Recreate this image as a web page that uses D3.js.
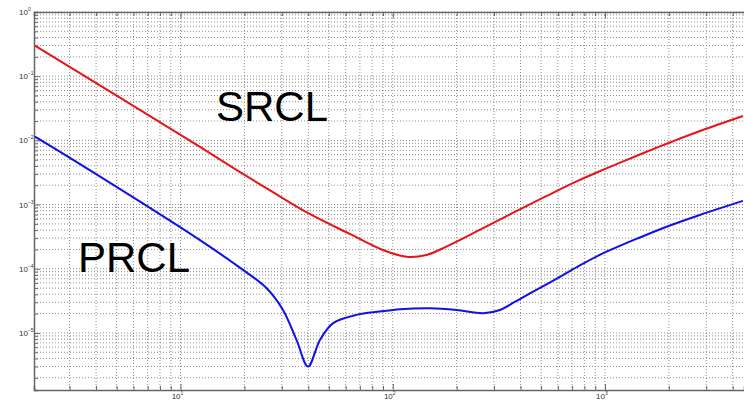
<!DOCTYPE html>
<html>
<head>
<meta charset="utf-8">
<script src="https://cdn.jsdelivr.net/npm/d3@7"></script>
<style>
  body { margin: 0; background: #fff; }
  svg { display: block; }
</style>
</head>
<body>
<svg id="chart" width="744" height="400"></svg>
<script>
// SRCL curve: frequency (Hz) and value
const srclFreq = [2.06, 12.3, 19.7, 26.4, 40.6, 62.8, 89.8, 116, 144, 179, 257, 368, 531, 735, 977, 1461, 2024, 2800, 4467];
const srclVal  = [0.299, 7.98e-3, 3.0e-3, 1.66e-3, 7.14e-4, 3.48e-4, 1.96e-4, 1.54e-4, 1.64e-4, 2.21e-4, 4.02e-4, 7.40e-4, 1.36e-3, 2.29e-3, 3.46e-3, 6.03e-3, 9.27e-3, 1.40e-2, 2.40e-2];

// PRCL curve
const prclFreq = [2.06, 3.12, 12.3, 19.7, 25.4, 30.4, 35.2, 39.9, 45.4, 52.4, 67.5, 86.9, 108, 150, 200, 267, 320, 376, 443, 613, 762, 977, 1461, 2024, 2800, 4467];
const prclVal  = [1.14e-2, 4.95e-3, 2.81e-4, 9.58e-5, 5.0e-5, 2.28e-5, 7.78e-6, 2.99e-6, 7.78e-6, 1.42e-5, 1.91e-5, 2.15e-5, 2.34e-5, 2.43e-5, 2.28e-5, 2.03e-5, 2.28e-5, 3.04e-5, 4.12e-5, 7.45e-5, 1.125e-4, 1.73e-4, 3.07e-4, 4.72e-4, 6.89e-4, 1.14e-3];

const xDecades = [1, 2, 3];
const yDecades = [0, -1, -2, -3, -4, -5];
const curveLabels = ["SRCL", "PRCL"];

const svg = d3.select("#chart");
const width = +svg.attr("width");
const height = +svg.attr("height");
const plot = {left: 34, top: 12, right: 744, bottom: 390};

const x = d3.scaleLog().domain([2.04, 4520]).range([plot.left, plot.right]);
const y = d3.scaleLog().domain([1.29e-6, 1]).range([plot.bottom, plot.top]);

// all 1..9 x 10^k values inside a domain
function logTicks(lo, hi) {
  const out = [];
  for (let k = Math.floor(Math.log10(lo)); k <= Math.ceil(Math.log10(hi)); k++) {
    for (let m = 1; m < 10; m++) {
      const v = m * Math.pow(10, k);
      if (v >= lo * 0.999 && v <= hi * 1.001) out.push(v);
    }
  }
  return out;
}
const xTicks = logTicks(2.04, 4520);
const yTicks = logTicks(1.29e-6, 1);
const isDecade = v => Math.abs(Math.log10(v) - Math.round(Math.log10(v))) < 1e-6;

// dotted grid
const grid = svg.append("g");
grid.selectAll("line.gx")
  .data(xTicks)
  .enter().append("line")
  .attr("x1", d => x(d)).attr("x2", d => x(d))
  .attr("y1", plot.top).attr("y2", plot.bottom)
  .attr("stroke", "#808080")
  .attr("stroke-width", 0.9)
  .attr("stroke-dasharray", "1,2");
grid.selectAll("line.gy")
  .data(yTicks)
  .enter().append("line")
  .attr("y1", d => y(d)).attr("y2", d => y(d))
  .attr("x1", plot.left).attr("x2", plot.right)
  .attr("stroke", "#808080")
  .attr("stroke-width", 0.9)
  .attr("stroke-dasharray", "1,2");

// axes (ticks pointing inward)
const axisColor = "#666";
const tickLen = d => isDecade(d) ? -6 : -4;

const bottomAxis = svg.append("g")
  .attr("transform", `translate(0,${plot.bottom})`)
  .call(d3.axisBottom(x).tickValues(xTicks).tickSize(-4).tickFormat(""));
const topAxis = svg.append("g")
  .attr("transform", `translate(0,${plot.top})`)
  .call(d3.axisTop(x).tickValues(xTicks).tickSize(-4).tickFormat(""));
const leftAxis = svg.append("g")
  .attr("transform", `translate(${plot.left},0)`)
  .call(d3.axisLeft(y).tickValues(yTicks).tickSize(-4).tickFormat(""));

[bottomAxis, topAxis, leftAxis].forEach(a => {
  a.select(".domain").attr("stroke", axisColor).attr("stroke-width", 1.5);
  a.selectAll(".tick line").attr("stroke", axisColor);
});
bottomAxis.selectAll(".tick line").attr("y2", d => tickLen(d));
topAxis.selectAll(".tick line").attr("y2", d => -tickLen(d));
leftAxis.selectAll(".tick line").attr("x2", d => -tickLen(d));

// tick labels 10^k
const labelFont = "Liberation Sans, Arial, sans-serif";
const xl = svg.append("g")
  .selectAll("text")
  .data(xDecades)
  .enter().append("text")
  .attr("x", d => x(Math.pow(10, d)) - 3)
  .attr("y", 399)
  .attr("text-anchor", "middle")
  .style("font-family", labelFont)
  .style("font-size", "8px")
  .style("fill", "#333");
xl.append("tspan").text("10");
xl.append("tspan").attr("dy", -4).style("font-size", "5px").text(d => d);

const yl = svg.append("g")
  .selectAll("text")
  .data(yDecades)
  .enter().append("text")
  .attr("x", 19)
  .attr("y", d => y(Math.pow(10, d)) + 3)
  .style("font-family", labelFont)
  .style("font-size", "8px")
  .style("fill", "#333");
yl.append("tspan").text("10");
yl.append("tspan").attr("dy", -4).style("font-size", "5px").text(d => d === 0 ? "0" : "\u2212" + Math.abs(d));

// curves
const line = d3.line()
  .x(d => x(d[0]))
  .y(d => y(d[1]))
  .curve(d3.curveCatmullRom.alpha(0.5));

svg.append("clipPath").attr("id", "plotclip")
  .append("rect")
  .attr("x", plot.left).attr("y", plot.top)
  .attr("width", plot.right - plot.left).attr("height", plot.bottom - plot.top);

const curves = svg.append("g").attr("clip-path", "url(#plotclip)");
curves.append("path")
  .datum(d3.zip(srclFreq, srclVal))
  .attr("d", line)
  .attr("fill", "none")
  .attr("stroke", "#e8141c")
  .attr("stroke-width", 2);
curves.append("path")
  .datum(d3.zip(prclFreq, prclVal))
  .attr("d", line)
  .attr("fill", "none")
  .attr("stroke", "#1010e8")
  .attr("stroke-width", 2);

// big curve names
svg.append("text")
  .attr("x", 216)
  .attr("y", 121)
  .style("font-family", labelFont)
  .style("font-size", "42px")
  .style("fill", "#000")
  .text(curveLabels[0]);
svg.append("text")
  .attr("x", 78)
  .attr("y", 272)
  .style("font-family", labelFont)
  .style("font-size", "42px")
  .style("fill", "#000")
  .text(curveLabels[1]);
</script>
</body>
</html>
